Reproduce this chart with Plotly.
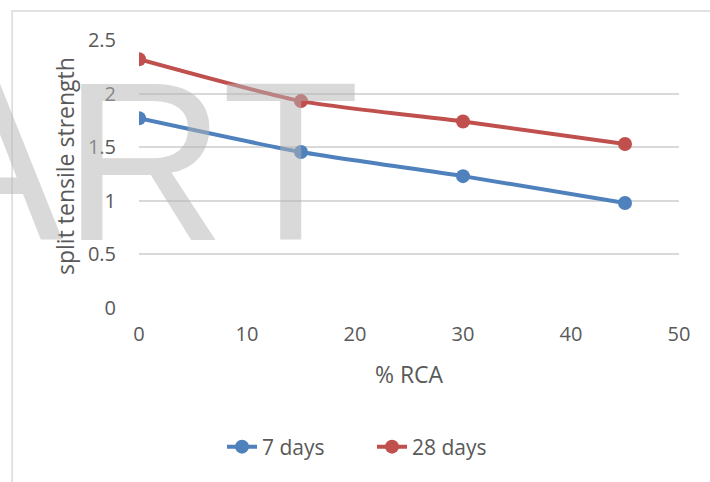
import plotly.graph_objects as go

# % recycled coarse aggregate replacement levels
rca = [0, 15, 30, 45]
# split tensile strength at each curing age
days7 = [1.77, 1.455, 1.23, 0.98]
days28 = [2.32, 1.93, 1.74, 1.53]
y_ticks = [0, 0.5, 1, 1.5, 2, 2.5]
x_ticks = [0, 10, 20, 30, 40, 50]

BLUE = "#4f81bd"
RED = "#c0504d"
TXT = "#595959"
FONT = "'Open Sans', sans-serif"
FS = 20
FT = 23

fig = go.Figure()
for name, vals, col in [("7 days", days7, BLUE), ("28 days", days28, RED)]:
    fig.add_trace(go.Scatter(
        x=rca, y=vals, name=name, mode="lines+markers",
        line=dict(color=col, width=4, shape="spline", smoothing=0.6),
        marker=dict(color=col, size=14),
    ))

# chart-area border (top and left edges)
fig.add_shape(type="path", xref="paper", yref="paper",
              path="M -0.235 -0.7 L -0.235 1.108 L 1.2 1.108",
              line=dict(color="#d9d9d9", width=1.5), layer="below")

# y-axis title, placed slightly above the plot-area centre
fig.add_annotation(text="split tensile strength", xref="paper", yref="paper",
                   x=(65 - 139) / 540, y=(308 - 166) / 268,
                   xanchor="center", yanchor="middle", textangle=-90,
                   showarrow=False, font=dict(size=FT, color=TXT))

# watermark
fig.add_annotation(text="ART", xref="paper", yref="paper",
                   x=(362 - 139) / 540, y=(308 - 161) / 268,
                   xanchor="right", yanchor="middle", showarrow=False,
                   font=dict(family="Liberation Sans, Arial, sans-serif",
                             size=226, color="rgba(180,180,180,0.5)"))

fig.update_layout(
    width=710, height=482,
    margin=dict(l=139, r=31, t=40, b=174),
    paper_bgcolor="white", plot_bgcolor="white",
    font=dict(family=FONT, color=TXT, size=FS),
    showlegend=True,
    legend=dict(orientation="h", x=(372 - 139) / 540, xanchor="center",
                y=(308 - 447) / 268, yanchor="middle",
                font=dict(size=FS + 1, color=TXT), entrywidth=105,
                entrywidthmode="pixels"),
    xaxis=dict(range=[0, 50], tickvals=x_ticks, showgrid=False, zeroline=False,
               showline=False, ticks="", tickfont=dict(size=FS, color=TXT),
               ticklabelstandoff=12,
               title=dict(text="% RCA", font=dict(size=FT, color=TXT), standoff=20)),
    yaxis=dict(range=[0, 2.5], tickvals=y_ticks, showgrid=True, gridcolor="#d9d9d9",
               gridwidth=1.5, zeroline=False, showline=False, ticks="",
               tickfont=dict(size=FS, color=TXT), ticklabelstandoff=22),
)
fig.write_html("out.html")
